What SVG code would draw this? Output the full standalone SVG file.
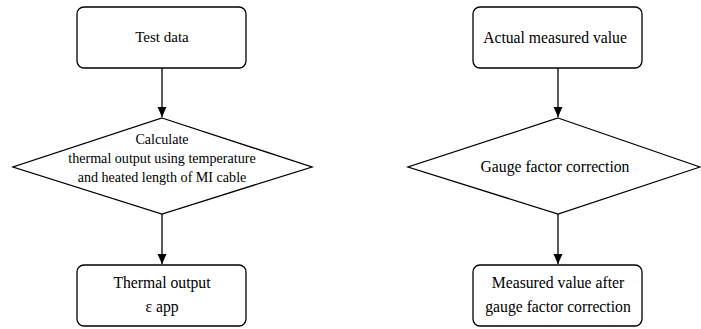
<svg xmlns="http://www.w3.org/2000/svg" width="701" height="329" viewBox="0 0 701 329">
<style>
.box{fill:#fff;stroke:#000;stroke-width:1.3}
.dia{fill:#fff;stroke:#000;stroke-width:1.3}
.t{font-family:"Liberation Serif","Times New Roman",serif;font-size:15.7px;fill:#000;text-anchor:middle}
.s{font-size:14.1px}
.c{stroke:#000;stroke-width:1.3;fill:none;marker-end:url(#ah)}
</style>
<defs>
<marker id="ah" viewBox="0 0 10 10" refX="10" refY="5" markerWidth="10" markerHeight="10" markerUnits="userSpaceOnUse" orient="auto">
<path d="M0,0.5 L10,5 L0,9.5 Z" fill="#000"/>
</marker>
</defs>
<rect width="701" height="329" fill="#fff"/>
<g id="connectors">
<line class="c" x1="162" y1="68" x2="162" y2="117"/>
<line class="c" x1="162" y1="214" x2="162" y2="264"/>
<line class="c" x1="558" y1="68" x2="558" y2="117"/>
<line class="c" x1="558" y1="214" x2="558" y2="264"/>
</g>
<g id="test-data">
<rect class="box" x="77" y="7" width="169" height="61" rx="7"/>
<text class="t" x="162" y="42" style="font-size:15px">Test data</text>
</g>
<g id="calculate">
<polygon class="dia" points="162,118 312,167 162,214 13,167"/>
<text class="t s" x="162" y="144">Calculate</text>
<text class="t s" x="162" y="163">thermal output using temperature</text>
<text class="t s" x="162" y="182">and heated length of MI cable</text>
</g>
<g id="thermal-output">
<rect class="box" x="77" y="265" width="169" height="61" rx="7"/>
<text class="t" x="162" y="288">Thermal output</text>
<text class="t" x="162" y="312">ε app</text>
</g>
<g id="actual-measured">
<rect class="box" x="473" y="7" width="169" height="61" rx="7"/>
<text class="t" x="555" y="43">Actual measured value</text>
</g>
<g id="gauge-correction">
<polygon class="dia" points="558,118 700,167 558,214 408,167"/>
<text class="t" x="555" y="172">Gauge factor correction</text>
</g>
<g id="measured-after">
<rect class="box" x="473" y="265" width="169" height="61" rx="7"/>
<text class="t" x="558" y="288">Measured value after</text>
<text class="t" x="558" y="312">gauge factor correction</text>
</g>
</svg>
